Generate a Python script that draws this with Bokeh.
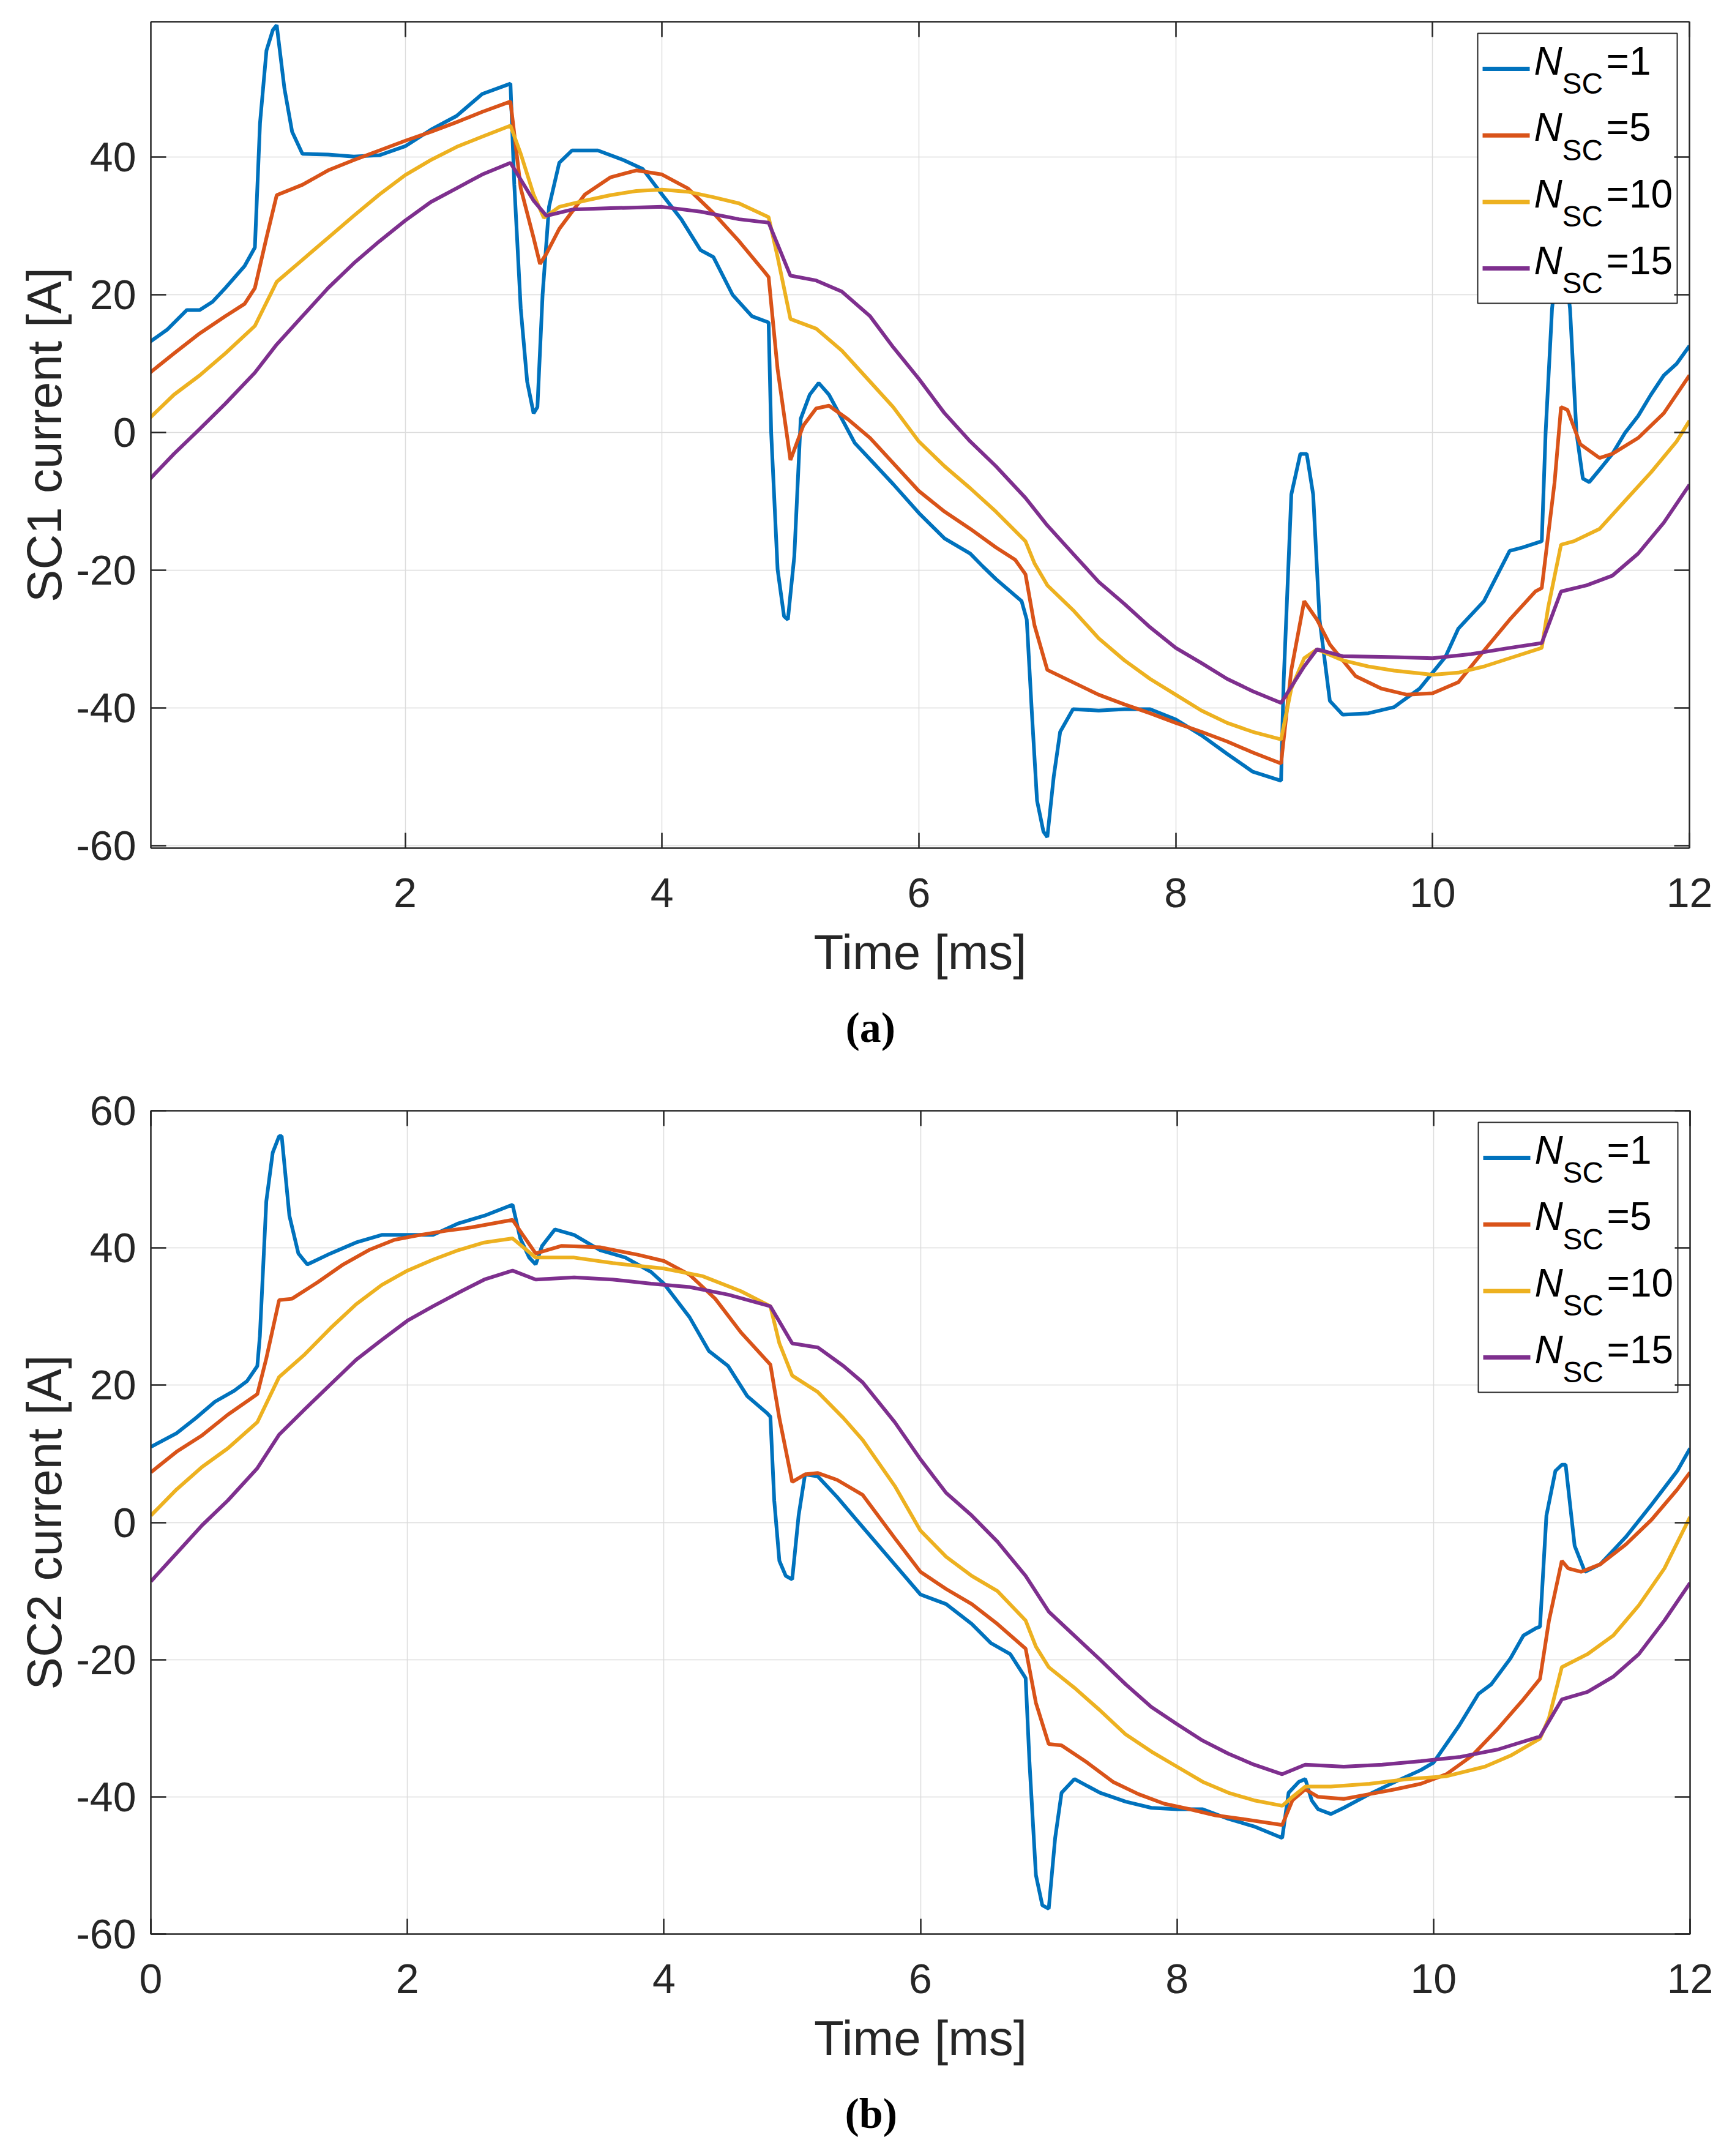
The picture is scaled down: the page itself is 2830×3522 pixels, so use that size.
import numpy as np
from bokeh.plotting import figure
from bokeh.layouts import column
from bokeh.models import Range1d, FixedTicker, LinearAxis, Title, Label, CustomJSTickFormatter
from bokeh.core.properties import value
from bokeh.embed import file_html
from bokeh.resources import INLINE

# ---------------- data: panel (a) SC1 current [A] vs time [ms] ----------------
a1_t = [0, 0.15, 0.3, 0.4, 0.5, 0.6, 0.75, 0.83, 0.87, 0.92, 0.97, 1.0, 1.06, 1.12, 1.2, 1.4, 1.6, 1.8,
        2.0, 2.2, 2.4, 2.6, 2.82, 2.85, 2.9, 2.95, 3.0, 3.03, 3.07, 3.12, 3.2, 3.3, 3.5, 3.7, 3.85,
        4.0, 4.15, 4.3, 4.4, 4.55, 4.7, 4.83, 4.85, 4.9, 4.95, 4.98, 5.03, 5.08, 5.15, 5.22, 5.3,
        5.5, 5.65, 5.8, 6.0, 6.2, 6.4, 6.5, 6.6, 6.8, 6.84, 6.88, 6.92, 6.97, 7.0, 7.05, 7.1, 7.2,
        7.4, 7.6, 7.8, 8.0, 8.2, 8.4, 8.6, 8.82, 8.84, 8.9, 8.97, 9.02, 9.07, 9.12, 9.2, 9.3, 9.5,
        9.7, 9.9, 10.1, 10.2, 10.4, 10.6, 10.7, 10.85, 10.88, 10.93, 10.98, 11.02, 11.07, 11.12,
        11.17, 11.22, 11.3, 11.4, 11.5, 11.6, 11.7, 11.8, 11.9, 12.0]
a1_i = [13.0, 15, 17.8, 17.8, 19, 21, 24.2, 26.9, 45, 55.5, 58.5, 59.2, 50, 43.7, 40.5, 40.4, 40.1, 40.3,
        41.6, 44, 46, 49.2, 50.7, 36, 18, 7.4, 2.8, 3.7, 20, 32.8, 39.2, 41, 41, 39.6, 38.3,
        34.6, 31, 26.5, 25.5, 20, 16.9, 16, 0, -19.9, -26.7, -27.2, -18, 2, 5.5, 7.2, 5.5,
        -1.5, -4.5, -7.5, -11.7, -15.4, -17.6, -19.5, -21.3, -24.5, -27.2, -40.8, -53.5, -58, -58.8, -50, -43.5, -40.2,
        -40.4, -40.2, -40.2, -41.7, -44, -46.7, -49.3, -50.6, -36.3, -9, -3.1, -3.1, -9, -27.2, -39, -41, -40.8,
        -39.9, -37.2, -32.6, -28.5, -24.5, -17.2, -16.7, -15.8, 0, 18, 26, 26, 18, 0,
        -6.7, -7.2, -5.4, -3.1, 0, 2.4, 5.5, 8.3, 10, 12.6]

a5_t = [0, 0.2, 0.4, 0.6, 0.75, 0.83, 0.92, 1.0, 1.2, 1.4, 1.6, 1.8, 2.0, 2.2, 2.4, 2.6, 2.82, 2.9,
        3.0, 3.05, 3.1, 3.2, 3.4, 3.6, 3.8, 4.0, 4.2, 4.4, 4.6, 4.8, 4.83, 4.9, 5.0, 5.1, 5.2, 5.3,
        5.45, 5.62, 6.0, 6.2, 6.4, 6.6, 6.75, 6.83, 6.9, 7.0, 7.2, 7.4, 7.6, 7.8, 8.0, 8.2, 8.4, 8.6,
        8.82, 8.9, 9.0, 9.1, 9.2, 9.4, 9.6, 9.8, 10.0, 10.2, 10.4, 10.6, 10.8, 10.85, 10.95, 11.0,
        11.05, 11.15, 11.3, 11.4, 11.6, 11.8, 12.0]
a5_i = [8.5, 11.5, 14.4, 16.9, 18.7, 21, 28.3, 34.5, 36, 38.1, 39.6, 41, 42.4, 43.7, 45.1, 46.6, 48.1, 35.5,
        28.3, 24.5, 26, 29.6, 34.6, 37.1, 38.1, 37.5, 35.5, 31.9, 27.8, 23.3, 22.6, 9.2, -4, 1, 3.5, 3.9,
        1.9, -0.8, -8.5, -11.5, -14, -16.7, -18.5, -20.6, -28, -34.5, -36.3, -38.1, -39.5, -40.8, -42.2, -43.5, -44.9, -46.5,
        -48.1, -34.5, -24.5, -27.2, -30.8, -35.4, -37.2, -38.1, -37.9, -36.3, -31.7, -27.2, -23.1, -22.6, -7.2, 3.7,
        3.3, -1.7, -3.7, -3.1, -0.8, 2.8, 8.3]

a10_t = [0, 0.2, 0.4, 0.6, 0.83, 1.0, 1.2, 1.4, 1.6, 1.8, 2.0, 2.2, 2.4, 2.6, 2.82, 2.9, 3.0, 3.08,
         3.2, 3.4, 3.6, 3.8, 4.0, 4.2, 4.4, 4.6, 4.83, 4.9, 5.0, 5.2, 5.4, 5.6, 5.8, 6.0, 6.2, 6.4,
         6.6, 6.83, 6.9, 7.0, 7.2, 7.4, 7.6, 7.8, 8.0, 8.2, 8.4, 8.6, 8.82, 8.9, 9.0, 9.1, 9.3, 9.5,
         9.7, 10.0, 10.2, 10.4, 10.6, 10.85, 10.9, 11.0, 11.1, 11.3, 11.5, 11.7, 11.9, 12.0]
a10_i = [1.9, 5.5, 8.3, 11.5, 15.5, 21.9, 25.1, 28.3, 31.5, 34.6, 37.4, 39.6, 41.5, 43, 44.6, 40.5, 34.6, 31.2,
         32.8, 33.7, 34.5, 35.1, 35.3, 35, 34.2, 33.3, 31.3, 25.5, 16.5, 15.1, 11.9, 7.8, 3.7, -1.3, -4.9, -8.1,
         -11.5, -15.8, -19, -22.2, -25.8, -29.9, -33.1, -35.8, -38.1, -40.4, -42.2, -43.5, -44.6, -37.2, -32.8, -31.5, -33.1, -34,
         -34.6, -35.2, -34.9, -34, -32.8, -31.3, -25.4, -16.3, -15.8, -14, -9.9, -5.8, -1.3, 1.7]

a15_t = [0, 0.2, 0.4, 0.6, 0.83, 1.0, 1.2, 1.4, 1.6, 1.8, 2.0, 2.2, 2.4, 2.6, 2.82, 3.0, 3.1, 3.3,
         3.6, 4.0, 4.3, 4.6, 4.83, 5.0, 5.2, 5.4, 5.62, 5.8, 6.0, 6.2, 6.4, 6.6, 6.83, 7.0, 7.2, 7.4,
         7.6, 7.8, 8.0, 8.2, 8.4, 8.6, 8.82, 9.0, 9.1, 9.3, 9.6, 10.0, 10.3, 10.6, 10.85, 11.0, 11.2,
         11.4, 11.6, 11.8, 12.0]
a15_i = [-7, -3.1, 0.5, 4.2, 8.7, 12.8, 16.9, 21, 24.6, 27.8, 30.8, 33.5, 35.5, 37.5, 39.2, 33.7, 31.5, 32.4,
         32.6, 32.8, 32.1, 31, 30.5, 22.8, 22.1, 20.5, 16.9, 12.4, 7.8, 2.8, -1.3, -4.9, -9.5, -13.5, -17.6, -21.7,
         -24.9, -28.3, -31.3, -33.5, -35.8, -37.6, -39.3, -34, -31.5, -32.5, -32.6, -32.8, -32.2, -31.3, -30.6, -23.1, -22.2,
         -20.8, -17.6, -13.1, -7.6]

# ---------------- data: panel (b) SC2 current [A] vs time [ms] ----------------
b1_t = [0, 0.2, 0.35, 0.5, 0.65, 0.75, 0.83, 0.85, 0.9, 0.95, 1.0, 1.02, 1.08, 1.15, 1.22, 1.4, 1.6, 1.8,
        2.0, 2.2, 2.4, 2.6, 2.82, 2.88, 2.95, 3.0, 3.05, 3.15, 3.3, 3.5, 3.7, 3.9, 4.0, 4.2, 4.35, 4.5,
        4.65, 4.8, 4.83, 4.86, 4.9, 4.95, 5.0, 5.05, 5.1, 5.2, 5.35, 5.5, 6.0, 6.2, 6.4, 6.55, 6.7,
        6.82, 6.85, 6.9, 6.95, 7.0, 7.05, 7.1, 7.2, 7.4, 7.6, 7.8, 8.0, 8.2, 8.4, 8.6, 8.82, 8.87,
        8.95, 9.0, 9.05, 9.1, 9.2, 9.3, 9.5, 9.7, 9.9, 10.0, 10.2, 10.35, 10.45, 10.6, 10.7, 10.8,
        10.83, 10.88, 10.95, 11.0, 11.03, 11.1, 11.18, 11.3, 11.5, 11.7, 11.9, 12.0]
b1_i = [11, 13, 15.2, 17.6, 19.2, 20.6, 22.8, 27.2, 46.8, 53.9, 56.3, 56.3, 44.7, 39.2, 37.6, 39.2, 40.8, 41.9,
        41.9, 41.9, 43.6, 44.7, 46.3, 41.4, 38.6, 37.6, 40.3, 42.7, 41.9, 39.7, 38.6, 36.5, 34.8, 29.9, 25, 22.8,
        18.4, 16, 15.4, 3.2, -5.6, -7.8, -8.3, 1, 7, 6.7, 3.7, 0.4, -10.5, -11.9, -14.8, -17.6, -19.2,
        -22.7, -35, -51.4, -55.8, -56.3, -46, -39.4, -37.4, -39.4, -40.7, -41.6, -41.8, -41.8, -43.2, -44.3, -46, -39.4,
        -37.8, -37.4, -40.5, -41.8, -42.5, -41.6, -39.6, -37.8, -36.1, -35, -29.6, -25, -23.6, -19.8, -16.5, -15.4,
        -15.2, 1, 7.5, 8.4, 8.4, -3.4, -7.2, -6.1, -2.1, 2.6, 7.5, 10.8]

b5_t = [0, 0.2, 0.4, 0.6, 0.83, 0.9, 1.0, 1.1, 1.3, 1.5, 1.7, 1.9, 2.1, 2.3, 2.5, 2.82, 2.9, 3.0,
        3.2, 3.5, 3.8, 4.0, 4.2, 4.4, 4.6, 4.83, 4.9, 5.0, 5.1, 5.2, 5.35, 5.55, 5.8, 6.0, 6.2, 6.4,
        6.6, 6.82, 6.9, 7.0, 7.1, 7.3, 7.5, 7.7, 7.9, 8.1, 8.3, 8.5, 8.82, 8.9, 9.0, 9.1, 9.3, 9.5,
        9.7, 9.9, 10.1, 10.3, 10.5, 10.7, 10.83, 10.9, 11.0, 11.05, 11.15, 11.3, 11.5, 11.7, 11.9, 12.0]
b5_i = [7.3, 10.3, 12.7, 15.7, 18.7, 23.9, 32.4, 32.6, 35, 37.6, 39.7, 41.2, 41.9, 42.5, 43, 44.1, 41.9, 39.2,
        40.3, 40.1, 39, 38.1, 36.1, 32.6, 27.7, 23, 15.2, 5.9, 7, 7.2, 6.2, 4, -2.3, -7.2, -9.7, -11.9,
        -14.8, -18.4, -26.3, -32.3, -32.5, -35, -37.8, -39.6, -41, -41.8, -42.7, -43.2, -44.1, -40.5, -38.9, -40, -40.3, -39.6,
        -38.9, -38.1, -36.7, -34, -30.1, -25.8, -22.8, -14.3, -5.6, -6.7, -7.2, -6.1, -3.2, 0.4, 4.8, 7.3]

b10_t = [0, 0.2, 0.4, 0.6, 0.83, 1.0, 1.2, 1.4, 1.6, 1.8, 2.0, 2.2, 2.4, 2.6, 2.82, 3.0, 3.3, 3.6,
         4.0, 4.3, 4.6, 4.83, 4.9, 5.0, 5.2, 5.4, 5.55, 5.8, 6.0, 6.2, 6.4, 6.6, 6.82, 6.9, 7.0, 7.2,
         7.4, 7.6, 7.8, 8.0, 8.2, 8.4, 8.6, 8.82, 8.9, 9.0, 9.2, 9.5, 9.8, 10.1, 10.4, 10.6, 10.83,
         10.9, 11.0, 11.2, 11.4, 11.6, 11.8, 12.0]
b10_i = [1, 4.8, 8.1, 10.8, 14.6, 21.2, 24.5, 28.3, 31.8, 34.6, 36.7, 38.3, 39.7, 40.8, 41.4, 38.6, 38.6, 37.8,
         37, 35.9, 33.7, 31.5, 26.1, 21.4, 19, 15.2, 12, 5.3, -1.2, -5, -7.8, -10, -14.3, -18.1, -21.1, -24.1,
         -27.4, -30.9, -33.4, -35.6, -37.8, -39.4, -40.5, -41.3, -40, -38.5, -38.5, -38.1, -37.4, -37, -35.6, -34, -31.5,
         -28.5, -21.1, -19.2, -16.5, -12.1, -6.7, 0.8]

b15_t = [0, 0.2, 0.4, 0.6, 0.83, 1.0, 1.2, 1.4, 1.6, 1.8, 2.0, 2.2, 2.4, 2.6, 2.82, 3.0, 3.3, 3.6,
         3.9, 4.2, 4.5, 4.83, 5.0, 5.2, 5.4, 5.55, 5.8, 6.0, 6.2, 6.4, 6.6, 6.82, 7.0, 7.2, 7.4, 7.6,
         7.8, 8.0, 8.2, 8.4, 8.6, 8.82, 9.0, 9.3, 9.6, 9.9, 10.2, 10.5, 10.83, 11.0, 11.2, 11.4, 11.6,
         11.8, 12.0]
b15_i = [-8.6, -4.5, -0.4, 3.2, 7.9, 12.8, 16.5, 20.1, 23.7, 26.6, 29.4, 31.5, 33.5, 35.4, 36.7, 35.4, 35.7, 35.4,
         34.8, 34.3, 33.2, 31.5, 26.1, 25.5, 22.8, 20.4, 14.6, 9.2, 4.3, 1, -2.8, -7.8, -13, -16.5, -20, -23.6,
         -26.9, -29.4, -31.8, -33.7, -35.3, -36.7, -35.3, -35.6, -35.3, -34.8, -34.2, -33.1, -31.2, -25.8, -24.7, -22.5, -19.2,
         -14.3, -8.8]

series_labels = ["1", "5", "10", "15"]
series_colors = ["#0072BD", "#D95319", "#EDB120", "#7E2F8E"]
x_ticks = [0, 2, 4, 6, 8, 10, 12]
y_ticks = [-60, -40, -20, 0, 20, 40, 60]

FONT = "Liberation Sans"
AX_COL = "#262626"


def make_panel(series, ylabel, panel_label, xr, yr, fw, fh, bl, br, bt, bb, lab_offset):
    p = figure(width=fw + bl + br, height=fh + bt + bb, frame_width=fw, frame_height=fh,
               x_range=Range1d(*xr), y_range=Range1d(*yr),
               output_backend="svg", toolbar_location=None,
               min_border_left=bl, min_border_right=br, min_border_top=bt, min_border_bottom=bb)
    p.background_fill_color = "white"
    p.border_fill_color = "white"
    p.outline_line_color = None

    for t, i, c in zip(series[0], series[1], series_colors):
        p.line(t, i, line_color=c, line_width=6)

    fmt = CustomJSTickFormatter(code="return tick.toFixed(0);")
    p.xaxis.axis_label = "Time [ms]"
    p.yaxis.axis_label = ylabel
    for ax, tk in ((p.xaxis, x_ticks), (p.yaxis, y_ticks)):
        ax.ticker = FixedTicker(ticks=tk)
        ax.formatter = fmt
        ax.axis_label_text_font = FONT
        ax.axis_label_text_font_size = "80px"
        ax.axis_label_text_font_style = "normal"
        ax.axis_label_text_color = AX_COL
        ax.major_label_text_font = FONT
        ax.major_label_text_font_size = "68px"
        ax.major_label_text_color = AX_COL
        ax.axis_line_color = AX_COL
        ax.axis_line_width = 2.5
        ax.major_tick_line_color = AX_COL
        ax.major_tick_line_width = 2.5
        ax.major_tick_in = 25
        ax.major_tick_out = 0
        ax.minor_tick_line_color = None
    p.xaxis.major_label_standoff = 49
    p.xaxis.axis_label_standoff = 26
    p.yaxis.major_label_standoff = 24
    p.yaxis.axis_label_standoff = 4

    for loc, tk in (("above", x_ticks), ("right", y_ticks)):
        ax = LinearAxis(ticker=FixedTicker(ticks=tk))
        ax.major_label_text_color = None
        ax.major_label_text_font_size = "1px"
        ax.major_label_standoff = 0
        ax.axis_line_color = AX_COL
        ax.axis_line_width = 2.5
        ax.major_tick_line_color = AX_COL
        ax.major_tick_line_width = 2.5
        ax.major_tick_in = 25
        ax.major_tick_out = 0
        ax.minor_tick_line_color = None
        p.add_layout(ax, loc)

    p.xgrid.grid_line_color = "#dcdcdc"
    p.ygrid.grid_line_color = "#dcdcdc"
    p.xgrid.grid_line_width = 1.5
    p.ygrid.grid_line_width = 1.5

    # legend (pixel offsets from the frame, converted to data units)
    x0, x1 = xr
    y0, y1 = yr

    def fx(px):
        return x0 + px / fw * (x1 - x0)

    def fy(py):
        return y1 - py / fh * (y1 - y0)

    lw, lh = 326, 441
    L = fw - 20 - lw
    T = 19
    p.quad(left=[fx(L)], right=[fx(L + lw)], top=[fy(T)], bottom=[fy(T + lh)],
           fill_color="white", line_color=AX_COL, line_width=2)
    for k, (lab, c) in enumerate(zip(series_labels, series_colors)):
        ly = T + 58 + 108.7 * k
        p.line([fx(L + 8), fx(L + 85)], [fy(ly), fy(ly)], line_color=c, line_width=7)
        p.add_layout(Label(x=fx(L + 92), y=fy(ly - 13), text="N", text_font=FONT,
                           text_font_size="64px", text_font_style="italic", text_color="black",
                           text_align="left", text_baseline="middle"))
        p.add_layout(Label(x=fx(L + 138), y=fy(ly + 24), text="SC", text_font=FONT,
                           text_font_size="48px", text_color="black",
                           text_align="left", text_baseline="middle"))
        p.add_layout(Label(x=fx(L + 210), y=fy(ly - 13), text="=" + lab, text_font=FONT,
                           text_font_size="64px", text_color="black",
                           text_align="left", text_baseline="middle"))

    p.add_layout(Title(text=panel_label, align="left", offset=lab_offset,
                       text_font="Liberation Serif", text_font_size="70px",
                       text_font_style="bold", text_color="black", standoff=70), "below")
    return p


pa = make_panel(([a1_t, a5_t, a10_t, a15_t], [a1_i, a5_i, a10_i, a15_i]),
                "SC1 current [A]", "(a)", (0.02, 12.0), (-60.4, 59.7),
                2514, 1350, 232, 68, 35, 375, 1135)
pb = make_panel(([b1_t, b5_t, b10_t, b15_t], [b1_i, b5_i, b10_i, b15_i]),
                "SC2 current [A]", "(b)", (0.0, 12.0), (-60.0, 60.0),
                2515, 1345, 246, 53, 54, 347, 1134)

layout = column(pa, pb, spacing=0)
open("out.html", "w").write(file_html(layout, INLINE))
